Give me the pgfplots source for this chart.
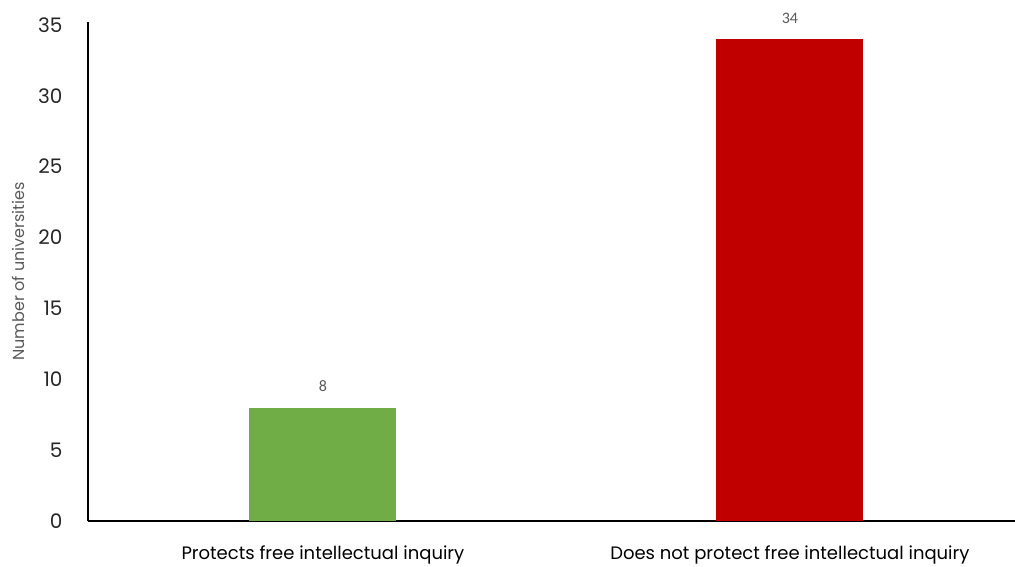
\documentclass[border=0pt]{standalone}
\usepackage{pgfplots}
\pgfplotsset{compat=1.18}
\usepackage{fontspec}
\setmainfont{Poppins}
\newfontfamily\valfont{Carlito}
\definecolor{barGreen}{HTML}{70AD47}
\definecolor{barRed}{HTML}{C00000}
\definecolor{labelGray}{HTML}{595959}
\begin{document}
\begin{tikzpicture}
\path[use as bounding box] (0,0) rectangle (1015pt,566pt);
\begin{axis}[
  at={(88pt,45pt)}, anchor=south west,
  scale only axis,
  width=927pt, height=499pt,
  xmin=-0.503, xmax=1.482,
  ymin=0, ymax=35.2,
  axis x line*=bottom, axis y line*=left,
  axis line style={black, line width=1.3pt, -},
  ytick={0,5,...,35},
  xtick={0,1},
  xticklabels={Protects free intellectual inquiry, Does not protect free intellectual inquiry},
  major tick length=0pt,
  yticklabel style={font=\fontsize{20}{23}\selectfont, text=black!85, xshift=-22pt},
  xticklabel style={font=\fontsize{18}{21}\selectfont, text=black, yshift=-21pt},
  /pgf/number format/assume math mode=true,
  ylabel={Number of universities},
  ylabel style={at={(axis description cs:0,0.5)}, anchor=center, yshift=70pt,
    font=\fontsize{16}{19}\selectfont, text=labelGray},
  ybar, bar shift=0pt, bar width=147pt,
  nodes near coords,
  every node near coord/.append style={font=\valfont\fontsize{16}{18}\selectfont, text=labelGray, yshift=12pt},
]
\addplot[draw=none, fill=barGreen] coordinates {(0,8)};
\addplot[draw=none, fill=barRed] coordinates {(1,34)};
\end{axis}
\end{tikzpicture}
\end{document}
